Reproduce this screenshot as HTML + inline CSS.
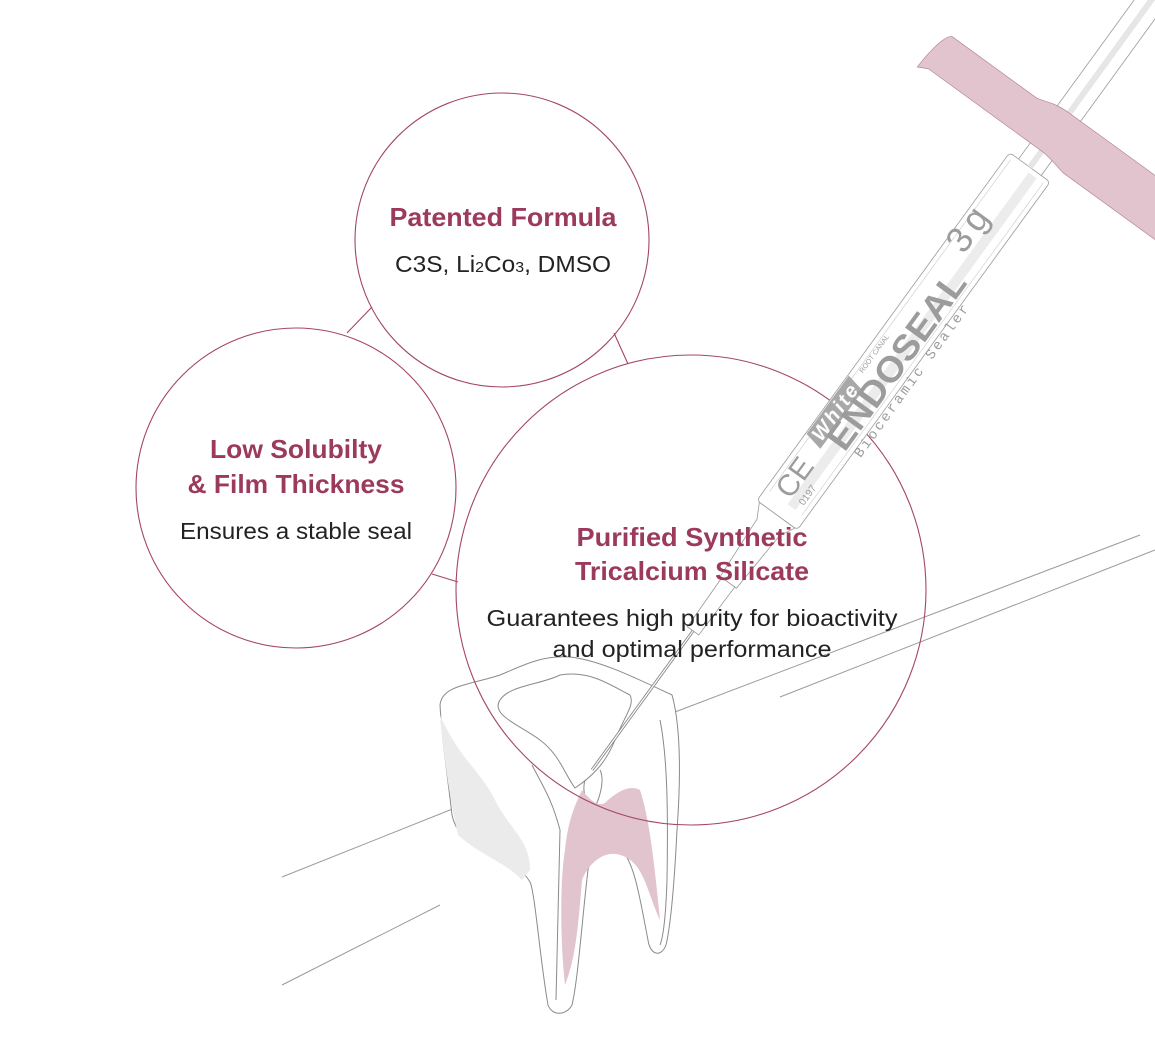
<!DOCTYPE html>
<html><head><meta charset="utf-8"><style>
html,body{margin:0;padding:0;background:#fff;}
svg{display:block;}
.t{font-family:"Liberation Sans",sans-serif;}
</style></head><body>
<svg width="1155" height="1059" viewBox="0 0 1155 1059" xmlns="http://www.w3.org/2000/svg">
<g stroke="#9a9a9a" stroke-width="1" fill="none">
<line x1="282" y1="877" x2="455" y2="808"/>
<line x1="282" y1="985" x2="440" y2="905"/>
<line x1="675" y1="712" x2="1140" y2="535"/>
<line x1="780" y1="697" x2="1155" y2="550"/>
</g>
<g stroke="#8a8a8a" stroke-width="1" fill="none">
<path d="M440,705 C442,685 470,685 500,675 C520,667 540,655 570,657 C600,660 640,680 672,695 C682,730 680,790 677,830 C675,870 672,920 666,945 C661,958 650,955 648,940 C640,900 635,862 620,848 C605,838 592,850 588,870 C582,920 578,980 572,1005 C566,1016 552,1016 548,1005 C540,960 535,892 530,882 C520,865 505,860 490,852 C465,842 455,830 452,815 C448,780 442,740 440,705 Z" fill="#fff"/>
<path d="M440,715 C460,760 480,770 495,800 C510,830 530,840 530,870 L522,880 C505,862 480,855 458,835 C450,800 444,760 440,715 Z" fill="#ebebeb" stroke="none"/>
<path d="M560,675 C540,685 510,685 500,700 C490,715 520,725 540,740 C560,755 565,775 575,788 C590,778 605,765 615,740 C625,715 635,705 630,695 C610,685 590,670 560,675 Z"/>
<path d="M600,770 C605,780 600,800 592,812 C585,800 582,790 585,780"/>
<path d="M582,790 C590,800 600,810 608,800 C620,790 630,785 640,790 C650,820 655,870 660,920 C650,900 645,870 630,860 C610,845 590,860 582,880 C578,930 575,960 565,985 C560,940 560,880 565,850 C568,820 575,805 582,790 Z" fill="#e2c4cf" stroke="none"/>
<path d="M532,765 C545,790 552,800 560,830 L556,1000"/>
<path d="M660,720 C668,760 668,820 667,880 C666,910 664,935 660,945"/>
</g>
<g stroke="#a3466a" stroke-width="1.1" fill="none">
<circle cx="502" cy="240" r="147"/>
<circle cx="296" cy="488" r="160"/>
<circle cx="691" cy="590" r="235"/>
<line x1="347" y1="333" x2="372" y2="307"/>
<line x1="614" y1="333" x2="628" y2="364"/>
<line x1="432" y1="574" x2="458" y2="582"/>
</g>
<g transform="translate(592,770) rotate(-54)">
<line x1="0" y1="0" x2="175" y2="0" stroke="#888" stroke-width="3"/>
<line x1="0" y1="0" x2="175" y2="0" stroke="#fff" stroke-width="1.2"/>
<path d="M172,-7 L232,-8 L232,8 L172,7 Z" fill="#fff" stroke="#999" stroke-width="0.8"/>
<path d="M232,-10 L300,-14 L315,-22 L315,22 L300,14 L232,10 Z" fill="#fff" stroke="#999" stroke-width="0.8"/>
<rect x="315" y="-25" width="430" height="50" rx="4" fill="#fff" stroke="#999" stroke-width="0.8"/>
<rect x="330" y="2" width="410" height="10" fill="#ececec"/>
<line x1="330" y1="-20" x2="740" y2="-20" stroke="#ccc" stroke-width="0.6"/>
<line x1="330" y1="20" x2="740" y2="20" stroke="#ccc" stroke-width="0.6"/>
<line x1="745" y1="-14" x2="1100" y2="-14" stroke="#999" stroke-width="0.8"/>
<line x1="745" y1="14" x2="1100" y2="14" stroke="#999" stroke-width="0.8"/>
<rect x="745" y="-3" width="360" height="6" fill="#e6e6e6"/>
<path d="M760,-150 C770,-150 800,-148 805,-140 L805,-35 C806,-28 812,-20 812,0 L812,130 C812,150 790,150 760,150 L760,30 C762,20 765,10 765,0 L765,-140 Z" fill="#e2c4cf" stroke="#b07a90" stroke-width="0.6"/>
<g fill="#9c9c9c" class="t">
<path d="M398,-24 L470,-24 L466,-4 L394,-4 Z" fill="#a8a8a8"/>
<text x="400" y="-7" font-size="20" font-weight="bold" font-style="italic" fill="#fff" textLength="64">White</text>
<text x="405" y="18" font-size="36" font-weight="bold" textLength="210" lengthAdjust="spacingAndGlyphs">ENDOSEAL</text>
<text x="635" y="-2" font-size="36" textLength="46">3g</text>
<text x="410" y="34" font-size="14" font-family="Liberation Mono,monospace" textLength="185">Bioceramic Sealer</text>
<text x="335" y="2" font-size="30">CE</text>
<text x="338" y="16" font-size="10">0197</text>
<text x="480" y="-14" font-size="7">ROOT CANAL</text>
</g>
</g>
<g class="t" text-anchor="middle">
<text x="503" y="226" font-size="26" font-weight="bold" fill="#9b3a5c" textLength="227" lengthAdjust="spacingAndGlyphs">Patented Formula</text>
<text x="503" y="272" font-size="23" fill="#222" textLength="216" lengthAdjust="spacingAndGlyphs">C3S, Li<tspan font-size="15">2</tspan>Co<tspan font-size="15">3</tspan>, DMSO</text>
<text x="296" y="458" font-size="26" font-weight="bold" fill="#9b3a5c" textLength="172" lengthAdjust="spacingAndGlyphs">Low Solubilty</text>
<text x="296" y="493" font-size="26" font-weight="bold" fill="#9b3a5c" textLength="217" lengthAdjust="spacingAndGlyphs">&amp; Film Thickness</text>
<text x="296" y="539" font-size="23" fill="#222" textLength="232" lengthAdjust="spacingAndGlyphs">Ensures a stable seal</text>
<text x="692" y="546" font-size="26" font-weight="bold" fill="#9b3a5c" textLength="231" lengthAdjust="spacingAndGlyphs">Purified Synthetic</text>
<text x="692" y="580" font-size="26" font-weight="bold" fill="#9b3a5c" textLength="234" lengthAdjust="spacingAndGlyphs">Tricalcium Silicate</text>
<text x="692" y="626" font-size="23" fill="#222" textLength="411" lengthAdjust="spacingAndGlyphs">Guarantees high purity for bioactivity</text>
<text x="692" y="657" font-size="23" fill="#222" textLength="279" lengthAdjust="spacingAndGlyphs">and optimal performance</text>
</g>
</svg>
</body></html>
